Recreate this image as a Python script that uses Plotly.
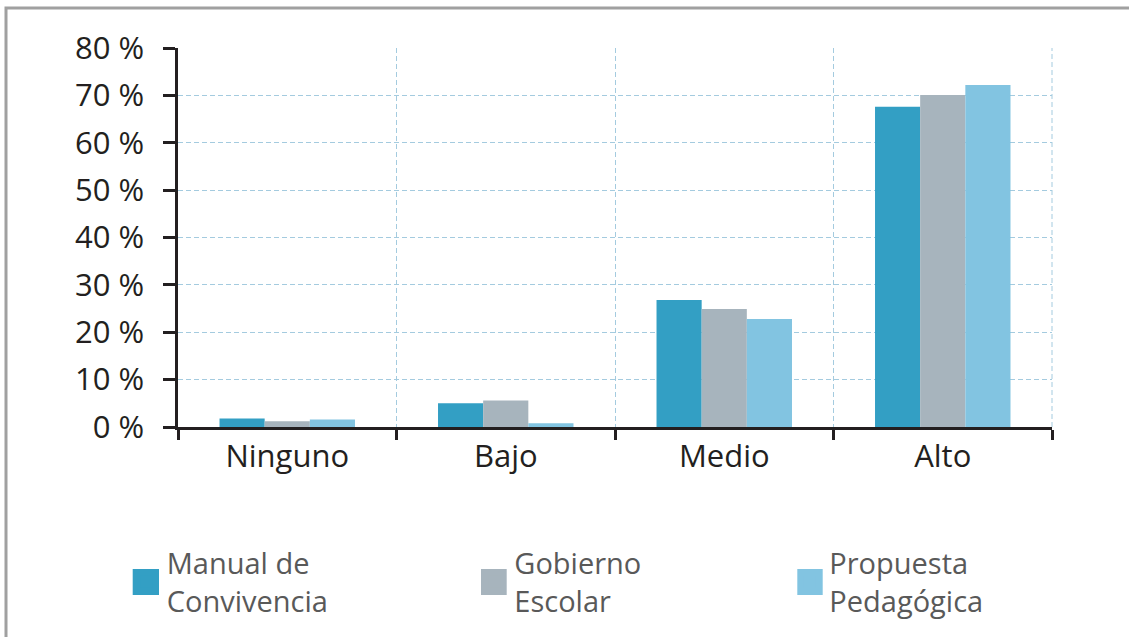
import plotly.graph_objects as go

categories = ["Ninguno", "Bajo", "Medio", "Alto"]
manual = [1.8, 5.0, 26.8, 67.6]
gobierno = [1.2, 5.6, 24.9, 70.1]
propuesta = [1.6, 0.8, 22.8, 72.2]
series_names = ["Manual de<br>Convivencia", "Gobierno<br>Escolar", "Propuesta<br>Pedagógica"]
colors = ["#339FC4", "#A7B4BD", "#82C4E1"]
y_ticks = [0, 10, 20, 30, 40, 50, 60, 70, 80]
y_ticklabels = [f"{v} %" for v in y_ticks]

W, H = 1129, 637
L, R, T, B = 178, 77, 48, 210
PW, PH = W - L - R, H - T - B

def px_x(x):
    return (x - L) / PW

def px_y(y):
    return 1 - (y - T) / PH

fig = go.Figure()
legends = ["legend", "legend2", "legend3"]
for vals, name, col, lg in zip([manual, gobierno, propuesta], series_names, colors, legends):
    fig.add_trace(go.Bar(x=categories, y=vals, name=name, marker=dict(color=col, line=dict(width=0)),
                         legend=lg, showlegend=True))

ink = "#231f20"
grid = "#A4CBDF"
fig.update_layout(
    width=W, height=H,
    showlegend=True,
    margin=dict(l=L, r=R, t=T, b=B, autoexpand=False),
    paper_bgcolor="white", plot_bgcolor="white",
    barmode="group", bargap=0.38, bargroupgap=0,
    font=dict(family="Open Sans", color=ink, size=31),
    xaxis=dict(
        type="category", tickson="boundaries", ticks="outside", ticklen=10, tickwidth=3, tickcolor=ink,
        showline=True, linewidth=3, linecolor=ink, showgrid=True, gridcolor=grid, griddash="5px,3px",
        gridwidth=1, tickfont=dict(size=31, color=ink), range=[-0.5, 3.5],
    ),
    yaxis=dict(
        range=[0, 80], tickvals=y_ticks, ticktext=y_ticklabels, ticks="outside", ticklen=12, tickwidth=3,
        tickcolor=ink, showline=True, linewidth=2.5, linecolor=ink, showgrid=True, gridcolor=grid,
        griddash="5px,3px", gridwidth=1, zeroline=False, tickfont=dict(size=31, color=ink),
        ticklabelstandoff=13,
    ),
)

leg_font = dict(family="Open Sans", size=29, color="#595959")
text_starts = [166.7, 514.3, 829.3]
for lg, ts in zip(legends, text_starts):
    fig.update_layout({lg: dict(xref="container", yref="container", x=(ts - 40) / W, xanchor="left",
                                 y=1 - 582 / H, yanchor="middle",
                                 font=leg_font, bgcolor="rgba(0,0,0,0)", borderwidth=0,
                                 orientation="h", visible=True)})

# enlarged legend swatches behind plotly's small ones
swatches = [(132.7, 159), (481, 506.7), (797.3, 822.7)]
shapes = []
for (x0, x1), col in zip(swatches, colors):
    shapes.append(dict(type="rect", xref="paper", yref="paper", x0=px_x(x0), x1=px_x(x1),
                       y0=px_y(595), y1=px_y(569), fillcolor=col, line=dict(width=0), layer="below"))
# right-edge dashed grid line
shapes.append(dict(type="line", xref="paper", yref="paper", x0=1, x1=1, y0=0, y1=1,
                   line=dict(color=grid, width=1, dash="5px,3px"), layer="below"))
# outer frame
shapes.append(dict(type="rect", xref="paper", yref="paper", x0=px_x(6), x1=px_x(1200),
                   y0=px_y(700), y1=px_y(8), line=dict(color="#A0A0A0", width=3),
                   fillcolor="rgba(0,0,0,0)", layer="below"))
fig.update_layout(shapes=shapes)

fig.write_html("out.html", config={"displayModeBar": False},
               post_script="document.body.style.margin='0';")
